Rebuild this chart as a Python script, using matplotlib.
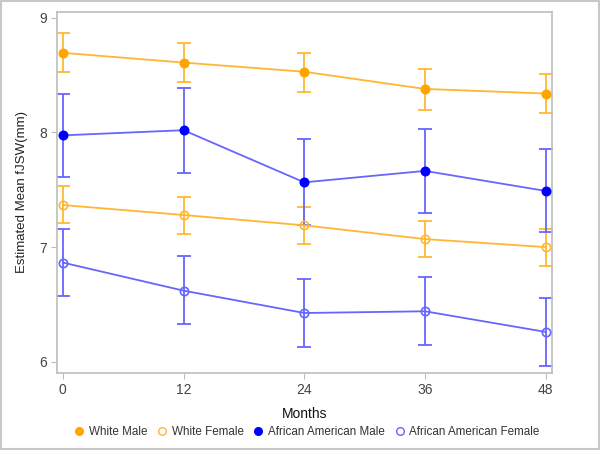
import matplotlib
matplotlib.use("Agg")
import matplotlib.pyplot as plt
from matplotlib.lines import Line2D
from matplotlib.patches import Rectangle

plt.rcParams['font.family'] = ['Liberation Sans', 'DejaVu Sans']

months = [0, 12, 24, 36, 48]

# estimated means and 95% CI
white_male = [8.695, 8.61, 8.53, 8.38, 8.34]
white_male_lo = [8.53, 8.44, 8.35, 8.20, 8.17]
white_male_hi = [8.87, 8.78, 8.69, 8.55, 8.51]

white_female = [7.367, 7.28, 7.19, 7.07, 7.0]
white_female_lo = [7.21, 7.115, 7.03, 6.91, 6.835]
white_female_hi = [7.535, 7.44, 7.35, 7.23, 7.155]

aa_male = [7.975, 8.02, 7.565, 7.665, 7.49]
aa_male_lo = [7.61, 7.65, 7.19, 7.30, 7.13]
aa_male_hi = [8.34, 8.385, 7.94, 8.03, 7.855]

aa_female = [6.865, 6.62, 6.425, 6.44, 6.26]
aa_female_lo = [6.57, 6.33, 6.13, 6.145, 5.965]
aa_female_hi = [7.155, 6.92, 6.725, 6.74, 6.555]

ORANGE = '#FFA500'
ORANGE_LINE = '#FFB733'
BLUE = '#0000FF'
BLUE_LINE = '#6666FF'

series = [
    ("White Male", white_male, white_male_lo, white_male_hi, ORANGE, ORANGE_LINE, True),
    ("White Female", white_female, white_female_lo, white_female_hi, ORANGE, ORANGE_LINE, False),
    ("African American Male", aa_male, aa_male_lo, aa_male_hi, BLUE, BLUE_LINE, True),
    ("African American Female", aa_female, aa_female_lo, aa_female_hi, BLUE, BLUE_LINE, False),
]

fig = plt.figure(figsize=(6, 4.5), dpi=100)
ax = fig.add_axes([0.0955, 0.172, 0.824, 0.801])

handles = []
for label, y, lo, hi, mc, lc, filled in series:
    yerr = [[m - l for m, l in zip(y, lo)], [h - m for m, h in zip(y, hi)]]
    ax.errorbar(months, y, yerr=yerr, fmt='none', ecolor=lc, elinewidth=1.3,
                capsize=5, capthick=1.3, zorder=2)
    ax.plot(months, y, color=lc, lw=1.3, zorder=3)
    ax.plot(months, y, ls='none', marker='o', markersize=6,
            markerfacecolor=mc if filled else 'none',
            markeredgecolor=mc if filled else lc, markeredgewidth=1.2, zorder=4)
    handles.append(Line2D([], [], ls='none', marker='o', markersize=5.5,
                          markerfacecolor=mc if filled else 'none',
                          markeredgecolor=mc if filled else lc, markeredgewidth=1.0,
                          label=label))

ax.set_xlim(-0.55, 48.6)
ax.set_ylim(5.905, 9.05)
ax.set_xticks(months)
ax.set_yticks([6, 7, 8, 9])
for s in ax.spines.values():
    s.set_color('#BDBDBD')
    s.set_linewidth(1.2)
ax.tick_params(colors='#BDBDBD', labelcolor='#444444', labelsize=10, length=4)

ax.set_xlabel("Months", fontsize=10, color='#111111', labelpad=7, fontweight='medium')
ax.set_ylabel("Estimated Mean fJSW(mm)", fontsize=9.5, color='#222222', labelpad=8)

fig.legend(handles=handles, loc='center', bbox_to_anchor=(0.51, 0.04), ncol=4,
           frameon=False, fontsize=8.4, handletextpad=0.3, columnspacing=0.7,
           handlelength=1.1, labelcolor='#333333')

# outer border of the graph
fig.patches.append(Rectangle((0.002, 0.003), 0.996, 0.994, transform=fig.transFigure,
                             fill=False, edgecolor='#C8C8C8', lw=1.5))

fig.savefig("out.png", dpi=100)
